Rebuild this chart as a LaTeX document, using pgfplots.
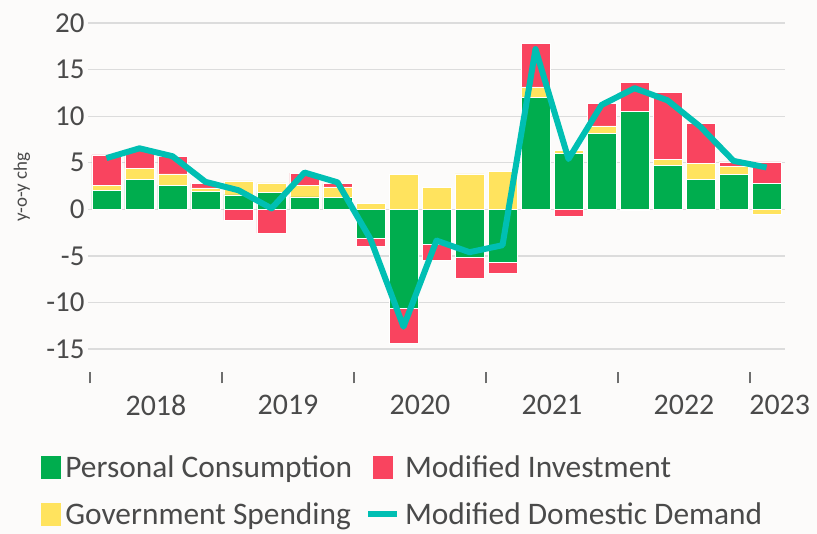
\documentclass[border=0pt]{standalone}
\usepackage{fontspec}
\setmainfont{Carlito}
\usepackage{pgfplots}
\usepackage{pgfplotstable}
\pgfplotsset{compat=1.18}
\definecolor{cgreen}{HTML}{00AD4E}
\definecolor{cred}{HTML}{F9445F}
\definecolor{cyellow}{HTML}{FFE35E}
\definecolor{cteal}{HTML}{00BFB3}
\definecolor{ctext}{HTML}{4A4A4A}
\definecolor{cgrid}{HTML}{DCDCDC}
\definecolor{cbg}{HTML}{FCFBFA}

% quarters 2018Q1 ... 2023Q1 ; g = personal consumption, y = government spending,
% r = modified investment, d = modified domestic demand (y-o-y % change)
\pgfplotstableread{
x  g      y      r      d
0  2.00   0.60   3.25   5.50
1  3.20   1.20   2.00   6.55
2  2.60   1.20   1.85   5.70
3  1.90   0.40   0.50   2.95
4  1.55   1.50  -1.15   2.05
5  1.80   1.05  -2.55   0.10
6  1.35   1.25   1.30   3.95
7  1.25   1.15   0.35   2.90
8  -3.10  0.65  -0.90  -3.20
9  -10.60 3.75  -3.80  -12.60
10 -3.75  2.35  -1.70  -3.35
11 -5.15  3.80  -2.20  -4.60
12 -5.70  4.10  -1.15  -3.85
13 12.05  1.10   4.65  17.20
14 6.00   0.35  -0.75   5.40
15 8.15   0.80   2.45  11.20
16 10.55 -0.10   3.05  13.00
17 4.75   0.60   7.20  11.70
18 3.25   1.65   4.30   8.85
19 3.75   0.90   0.45   5.20
20 2.80  -0.55   2.30   4.50
}\data

\pgfplotsset{base/.style={
  scale only axis, width=697bp, height=355bp,
  anchor=south west, at={(88bp,156bp)},
  xmin=-0.56, xmax=20.56, ymin=-18.1, ymax=20,
}}
\pgfplotsset{bars/.style={
  base, hide axis, ybar stacked, bar width=29bp,
  every axis plot/.append style={draw=white, line width=0.5bp},
}}

\begin{document}
\begin{tikzpicture}
\fill[cbg] (0,0) rectangle (817bp,534bp);
\useasboundingbox (0,0) rectangle (817bp,534bp);

% frame: grid, ticks, labels, legend
\begin{axis}[base,
  axis line style={draw=none},
  tick pos=left,
  ymajorgrids, grid style={cgrid, line width=1.3bp},
  ytick={-15,-10,...,20},
  ytick style={draw=none},
  yticklabel style={font=\fontsize{29}{29}\selectfont, text=ctext},
  /pgf/number format/assume math mode=true,
  xtick={-0.5,3.5,7.5,11.5,15.5,19.5},
  xticklabels={},
  xtick align=center,
  major tick length=11bp,
  xtick style={ctext!80, line width=1.3bp},
  extra x ticks={1.5,5.5,9.5,13.5,17.5,20.4},
  extra x tick labels={2018,2019,2020,2021,2022,2023},
  extra x tick style={major tick length=0pt,
     xticklabel style={font=\fontsize{30}{30}\selectfont, text=ctext, yshift=-14bp}},
  ylabel={y-o-y chg},
  ylabel style={at={(axis description cs:-0.0947,0.538)}, anchor=center,
     font=\fontsize{19}{19}\selectfont, text=ctext},
  legend columns=2,
  legend cell align=left,
  legend style={draw=none, fill=none, at={(axis description cs:-0.072,-0.208)},
     anchor=north west, font=\fontsize{31.5}{31.5}\selectfont, text=ctext,
     row sep=19bp,
     /tikz/every odd column/.append style={column sep=3bp},
     /tikz/every even column/.append style={column sep=11bp}},
]
\addlegendimage{legend image code/.code={\fill[cgreen] (0bp,-11bp) rectangle (19bp,11bp);}}
\addlegendentry{Personal Consumption}
\addlegendimage{legend image code/.code={\path[draw=none,fill=none] (0bp,0bp) -- (29bp,0bp);\fill[cred] (5bp,-11bp) rectangle (24bp,11bp);}}
\addlegendentry{Modified Investment}
\addlegendimage{legend image code/.code={\fill[cyellow] (0bp,-11bp) rectangle (19bp,11bp);}}
\addlegendentry{Government Spending}
\addlegendimage{legend image code/.code={\draw[cteal, line width=6bp] (0bp,0bp) -- (29bp,0bp);}}
\addlegendentry{Modified Domestic Demand}
\end{axis}

% positive contributions
\begin{axis}[bars]
\addplot[fill=cgreen]  table[x=x, y expr={max(\thisrow{g},0)}] {\data};
\addplot[fill=cyellow] table[x=x, y expr={max(\thisrow{y},0)}] {\data};
\addplot[fill=cred]    table[x=x, y expr={max(\thisrow{r},0)}] {\data};
\end{axis}

% negative contributions
\begin{axis}[bars]
\addplot[fill=cgreen]  table[x=x, y expr={min(\thisrow{g},0)}] {\data};
\addplot[fill=cyellow] table[x=x, y expr={min(\thisrow{y},0)}] {\data};
\addplot[fill=cred]    table[x=x, y expr={min(\thisrow{r},0)}] {\data};
\end{axis}

% modified domestic demand
\begin{axis}[base, hide axis]
\addplot[cteal, line width=6bp, line join=round, no markers] table[x=x, y=d] {\data};
\end{axis}
\end{tikzpicture}
\end{document}
